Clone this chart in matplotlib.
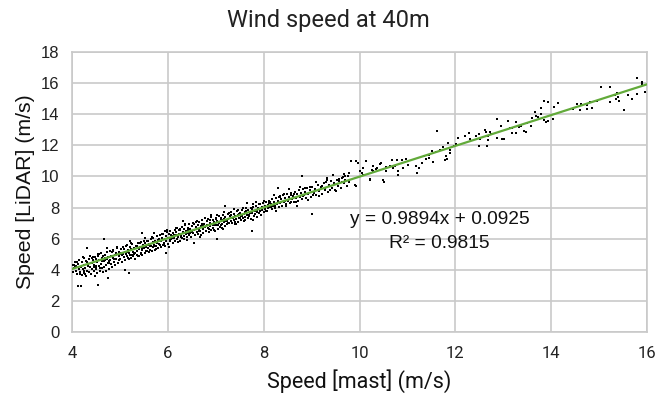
import matplotlib
matplotlib.use("Agg")
import matplotlib.pyplot as plt
import numpy as np

# hand-read points (mast speed, LiDAR speed), m/s
mast_speed = [
    4.02, 4.03, 4.05, 4.06, 4.08, 4.09, 4.11, 4.12, 4.13, 4.14,
    4.15, 4.16, 4.18, 4.19, 4.20, 4.21, 4.22, 4.24, 4.25, 4.26,
    4.27, 4.29, 4.30, 4.31, 4.32, 4.33, 4.35, 4.36, 4.37, 4.38,
    4.40, 4.41, 4.42, 4.43, 4.45, 4.46, 4.47, 4.48, 4.49, 4.50,
    4.51, 4.52, 4.53, 4.55, 4.55, 4.56, 4.57, 4.58, 4.60, 4.61,
    4.62, 4.63, 4.64, 4.66, 4.66, 4.67, 4.68, 4.70, 4.71, 4.72,
    4.73, 4.75, 4.75, 4.76, 4.78, 4.79, 4.80, 4.81, 4.82, 4.84,
    4.85, 4.86, 4.87, 4.89, 4.90, 4.91, 4.92, 4.94, 4.95, 4.97,
    4.98, 4.99,
    5.00, 5.01, 5.03, 5.04, 5.05, 5.07, 5.08, 5.10, 5.10, 5.11,
    5.12, 5.14, 5.15, 5.16, 5.18, 5.19, 5.19, 5.20, 5.22, 5.23,
    5.24, 5.26, 5.27, 5.28, 5.30, 5.31, 5.32, 5.34, 5.35, 5.36,
    5.38, 5.39, 5.40, 5.42, 5.43, 5.44, 5.46, 5.46, 5.47, 5.49,
    5.50, 5.52, 5.53, 5.54, 5.56, 5.57, 5.58, 5.60, 5.61, 5.62,
    5.64, 5.65, 5.66, 5.68, 5.69, 5.70, 5.72, 5.73, 5.74, 5.76,
    5.77, 5.78, 5.80, 5.81, 5.82, 5.84, 5.85, 5.86, 5.88, 5.89,
    5.90, 5.92, 5.93, 5.94, 5.96, 5.96, 5.97, 5.99,
    6.00, 6.01, 6.03, 6.04, 6.05, 6.07, 6.08, 6.10, 6.11, 6.12,
    6.14, 6.15, 6.16, 6.18, 6.19, 6.20, 6.22, 6.23, 6.25, 6.26,
    6.27, 6.29, 6.30, 6.31, 6.31, 6.33, 6.34, 6.36, 6.37, 6.38,
    6.40, 6.41, 6.42, 6.44, 6.45, 6.46, 6.48, 6.49,
    6.50, 6.52, 6.53, 6.55, 6.55, 6.56, 6.58, 6.59, 6.60, 6.62,
    6.63, 6.64, 6.66, 6.67, 6.69, 6.70, 6.71, 6.73, 6.74, 6.75,
    6.77, 6.78, 6.80, 6.81, 6.82, 6.84, 6.85, 6.87, 6.88, 6.89,
    6.91, 6.92, 6.94, 6.95, 6.96, 6.98, 6.99,
    7.00, 7.02, 7.02, 7.03, 7.05, 7.06, 7.07, 7.09, 7.10, 7.12,
    7.13, 7.14, 7.16, 7.17, 7.19, 7.20, 7.20, 7.22, 7.23, 7.25,
    7.26, 7.28, 7.29, 7.31, 7.32, 7.34, 7.35, 7.37, 7.38, 7.40,
    7.41, 7.43, 7.44, 7.46, 7.47, 7.49,
    7.50, 7.52, 7.53, 7.55, 7.56, 7.58, 7.59, 7.61, 7.62, 7.64,
    7.65, 7.67, 7.68, 7.70, 7.71, 7.73, 7.75, 7.75, 7.76, 7.78,
    7.79, 7.81, 7.82, 7.84, 7.85, 7.87, 7.88, 7.90, 7.91, 7.93,
    7.94, 7.96, 7.97, 7.99,
    8.00, 8.02, 8.03, 8.05, 8.07, 8.08, 8.10, 8.12, 8.13, 8.15,
    8.17, 8.18, 8.20, 8.22, 8.23, 8.25, 8.27, 8.29, 8.30, 8.31,
    8.33, 8.35, 8.37, 8.39, 8.41, 8.43, 8.45, 8.47, 8.49,
    8.51, 8.53, 8.55, 8.57, 8.59, 8.62, 8.64, 8.66, 8.68, 8.70,
    8.72, 8.74, 8.76, 8.78, 8.80, 8.80, 8.82, 8.85, 8.87, 8.89,
    8.91, 8.93, 8.96, 8.98,
    9.01, 9.01, 9.04, 9.07, 9.10, 9.13, 9.16, 9.19, 9.22, 9.25,
    9.28, 9.31, 9.33, 9.34, 9.37, 9.40, 9.43, 9.46, 9.49, 9.52,
    9.55, 9.58, 9.61, 9.64, 9.65, 9.67, 9.67, 9.70, 9.73, 9.76,
    9.79, 9.79, 9.83, 9.90, 9.93, 9.93, 9.96,
    10.00, 10.05, 10.07, 10.07, 10.14, 10.21, 10.22, 10.26, 10.28, 10.28,
    10.35, 10.37, 10.42, 10.45, 10.49, 10.52, 10.56, 10.56, 10.63, 10.67,
    10.69, 10.74, 10.78, 10.80, 10.81, 10.89, 10.90, 10.97, 11.01,
    11.18, 11.20, 11.25, 11.31, 11.35, 11.38, 11.44, 11.46, 11.51, 11.53,
    11.60, 11.62, 11.69, 11.74, 11.79, 11.81, 11.83, 11.84, 11.88, 11.89,
    11.98, 12.01, 12.05, 12.21, 12.28, 12.30, 12.44, 12.49, 12.50, 12.51,
    12.61, 12.64, 12.66, 12.68, 12.69, 12.72, 12.75, 12.87, 12.87, 12.96,
    12.98, 13.02, 13.10, 13.15, 13.19, 13.19, 13.26, 13.26, 13.33, 13.38,
    13.44, 13.47, 13.49, 13.58, 13.61, 13.66, 13.68, 13.72, 13.78, 13.78,
    13.85, 13.85, 13.89, 13.94, 13.94, 14.03, 14.06, 14.15, 14.46, 14.53,
    14.61, 14.63, 14.74, 14.74, 14.80, 14.85, 14.96, 15.05, 15.22, 15.23,
    15.33, 15.36, 15.38, 15.39, 15.42, 15.51, 15.61, 15.69, 15.79, 15.80,
    15.89, 15.89, 15.96,
]
lidar_speed = [
    4.31, 3.85, 4.12, 4.52, 3.95, 4.27, 3.72, 4.40, 2.96, 4.05,
    4.63, 3.88, 4.21, 2.98, 3.66, 4.48, 4.02, 4.75, 3.79, 4.33,
    4.10, 3.61, 4.56, 5.42, 3.94, 4.28, 4.68, 3.83, 4.15, 4.90,
    3.70, 4.44, 4.02, 4.61, 3.89, 4.30, 4.82, 3.58, 4.19, 4.72,
    4.05, 4.48, 3.81, 3.02, 4.91, 4.26, 4.63, 3.95, 4.40, 5.05,
    4.12, 4.77, 3.86, 5.96, 4.55, 4.20, 4.98, 4.33, 3.92, 4.69,
    5.12, 3.49, 4.46, 4.85, 4.08, 4.62, 5.21, 4.37, 4.90, 4.15,
    4.73, 5.30, 4.51, 4.96, 4.28, 5.08, 4.67, 5.39, 4.45, 4.88,
    5.17, 4.60,
    5.02, 4.71, 5.33, 4.52, 4.94, 5.48, 4.80, 3.99, 5.15, 4.63,
    5.02, 5.57, 4.89, 5.26, 4.70, 3.81, 5.10, 5.44, 4.96, 5.31,
    4.78, 5.63, 5.17, 4.91, 5.40, 5.05, 4.72, 5.54, 5.22, 4.98,
    5.71, 5.33, 4.86, 5.47, 5.10, 5.80, 6.39, 5.28, 4.95, 5.60,
    5.37, 5.05, 5.74, 5.48, 5.18, 5.86, 5.41, 5.12, 5.66, 5.30,
    5.95, 5.52, 5.21, 5.79, 5.44, 6.07, 5.60, 5.29, 5.88, 5.51,
    6.15, 5.70, 5.38, 5.97, 5.63, 6.22, 5.47, 5.82, 6.05, 5.58,
    6.30, 5.74, 5.96, 5.52, 5.10, 6.18, 5.85, 6.40,
    5.68, 6.05, 6.27, 5.82, 6.49, 5.95, 6.18, 5.73, 6.36, 6.02,
    6.58, 5.88, 6.24, 6.45, 5.97, 6.70, 6.12, 6.33, 5.85, 6.55,
    6.20, 6.78, 6.03, 7.16, 6.41, 6.62, 6.14, 6.85, 6.30, 6.52,
    6.08, 6.71, 6.38, 6.94, 6.22, 6.60, 6.44, 6.12,
    6.80, 6.35, 6.98, 5.70, 6.56, 6.25, 6.74, 7.10, 6.43, 6.88,
    6.30, 6.65, 7.05, 6.50, 6.21, 6.83, 7.22, 6.61, 6.38, 6.96,
    6.72, 7.30, 6.52, 6.88, 7.12, 6.66, 6.40, 7.02, 6.79, 7.40,
    6.58, 6.95, 7.18, 6.71, 7.05, 6.48, 6.86,
    7.28, 5.98, 6.90, 7.12, 6.62, 7.45, 7.00, 6.78, 7.33, 6.95,
    7.18, 6.70, 7.52, 7.05, 6.84, 8.08, 7.39, 7.11, 6.92, 7.60,
    7.25, 6.98, 7.44, 7.15, 7.70, 7.02, 7.36, 7.58, 7.20, 6.95,
    7.48, 7.28, 7.78, 7.10, 7.52, 7.35,
    7.66, 7.22, 7.47, 7.85, 7.30, 7.60, 7.12, 7.74, 7.42, 7.95,
    7.55, 7.30, 7.82, 7.50, 7.68, 7.28, 6.52, 7.90, 7.62, 8.05,
    7.45, 7.80, 7.58, 8.12, 7.70, 7.40, 7.95, 7.62, 8.20, 7.78,
    7.55, 8.02, 7.83, 8.30,
    7.72, 8.08, 7.90, 8.38, 7.80, 8.15, 7.95, 8.45, 8.02, 8.26,
    7.88, 8.55, 8.10, 8.35, 7.98, 8.62, 8.20, 8.44, 9.28, 8.05,
    8.70, 8.30, 8.52, 8.12, 8.78, 8.38, 8.60, 8.22, 8.85,
    8.45, 8.68, 8.28, 8.92, 8.55, 8.75, 8.35, 9.02, 8.62, 8.84,
    8.40, 9.10, 8.70, 8.95, 10.05, 8.52, 9.18, 8.78, 9.02, 8.60,
    9.25, 8.88, 9.12, 8.68,
    7.59, 9.30, 8.95, 9.20, 8.78, 9.42, 9.05, 9.35, 8.90, 9.55,
    9.18, 9.62, 9.92, 9.02, 9.45, 9.72, 9.28, 9.58, 9.10, 9.80,
    9.40, 9.68, 9.25, 9.90, 9.99, 9.55, 10.16, 9.78, 9.38, 10.02,
    9.65, 10.20, 11.02, 9.44, 11.00, 9.40, 10.85,
    10.33, 10.20, 10.10, 10.57, 11.00, 9.81, 9.77, 10.42, 10.68, 10.33,
    10.48, 10.52, 10.78, 10.85, 9.77, 9.62, 10.63, 10.33, 10.68, 11.06,
    10.52, 10.68, 11.04, 10.38, 10.10, 11.04, 10.57, 11.13, 10.74,
    10.68, 10.25, 10.57, 10.89, 11.34, 11.13, 11.17, 11.38, 11.66, 10.91,
    11.59, 12.93, 11.70, 11.92, 11.04, 11.32, 11.13, 12.13, 11.70, 11.49,
    11.98, 12.09, 12.50, 12.62, 12.82, 12.39, 12.62, 11.98, 12.71, 12.41,
    12.99, 12.84, 11.98, 12.62, 12.35, 12.86, 12.73, 13.72, 12.45, 13.27,
    12.41, 12.41, 13.57, 13.12, 13.14, 12.78, 13.52, 12.78, 13.20, 13.25,
    12.93, 12.84, 13.42, 13.27, 13.74, 14.16, 13.89, 13.81, 14.42, 14.00,
    14.85, 13.63, 13.48, 14.81, 13.57, 13.68, 14.49, 14.70, 14.32, 14.64,
    14.28, 14.64, 14.60, 14.34, 14.77, 14.42, 14.85, 15.73, 14.81, 15.73,
    15.26, 14.98, 15.35, 15.09, 14.85, 14.28, 15.24, 14.96, 16.35, 15.28,
    16.10, 15.95, 15.41,
]

# second pass over the dense band (4 - 9.7 m/s)
mast_speed_band = [
    4.04, 4.17, 4.07, 4.23, 4.34, 4.28, 4.44, 4.39, 4.57, 4.49,
    4.65, 4.59, 4.74, 4.69, 4.83, 4.78, 4.93, 4.88, 5.02, 4.96,
    5.13, 5.06, 5.21, 5.17, 5.33, 5.25, 5.41, 5.37, 5.52, 5.45,
    5.59, 5.55, 5.71, 5.63, 5.79, 5.75, 5.87, 5.83, 5.98, 5.91,
    6.06, 6.02, 6.17, 6.09, 6.24, 6.21, 6.35, 6.28, 6.43, 6.39,
    6.54, 6.47, 6.61, 6.57, 6.72, 6.68, 6.83, 6.76, 6.90, 6.86,
    7.01, 6.97, 7.11, 7.04, 7.18, 7.15, 7.27, 7.24, 7.39, 7.33,
    7.48, 7.42, 7.57, 7.51, 7.66, 7.60, 7.74, 7.69, 7.83, 7.77,
    7.92, 7.86, 8.01, 7.95, 8.11, 8.06, 8.21, 8.16, 8.32, 8.26,
    8.42, 8.36, 8.53, 8.46, 8.63, 8.58, 8.75, 8.69, 8.86, 8.81,
    8.97, 8.92, 9.09, 9.03, 9.21, 9.15, 9.32, 9.27, 9.45, 9.39,
    9.57, 9.51, 9.69, 9.63,
    4.01, 4.10, 4.19, 4.26, 4.32, 4.41, 4.46, 4.54, 4.62, 4.68,
    4.77, 4.85, 4.91, 5.00, 5.08, 5.15, 5.23, 5.29, 5.36, 5.44,
    5.51, 5.58, 5.66, 5.73, 5.81, 5.89, 5.95, 6.04, 6.13, 6.20,
    6.26, 6.33, 6.41, 6.50, 6.59, 6.65, 6.73, 6.80, 6.88, 6.95,
    7.03, 7.10, 7.17, 7.25, 7.31, 7.40, 7.47, 7.55, 7.63, 7.70,
    7.78, 7.85, 7.93, 8.04, 8.14, 8.24, 8.34, 8.44, 8.56, 8.67,
]
lidar_speed_band = [
    4.31, 3.75, 4.20, 4.83, 4.24, 3.71, 4.83, 4.41, 5.03, 4.25,
    4.87, 4.12, 5.42, 4.65, 5.14, 4.45, 5.47, 4.72, 5.09, 4.44,
    5.56, 4.99, 5.84, 4.78, 5.51, 4.97, 5.75, 4.87, 6.03, 5.43,
    5.85, 5.19, 6.37, 5.50, 5.89, 5.31, 6.29, 5.62, 6.55, 5.60,
    6.26, 5.49, 6.66, 6.03, 6.57, 5.81, 6.96, 6.09, 6.57, 5.91,
    6.92, 6.36, 7.14, 6.23, 6.96, 6.12, 7.28, 6.76, 7.54, 6.60,
    7.30, 6.55, 7.27, 6.87, 7.74, 6.64, 7.63, 7.16, 7.89, 7.01,
    7.59, 6.97, 7.98, 7.36, 8.28, 7.23, 7.95, 7.46, 8.35, 7.23,
    8.22, 7.81, 8.45, 7.54, 8.28, 7.77, 8.80, 8.02, 8.67, 7.77,
    8.90, 8.33, 9.20, 8.11, 8.88, 8.36, 9.30, 8.11, 9.26, 8.72,
    9.29, 8.49, 9.67, 8.83, 9.40, 8.77, 9.79, 9.15, 10.10, 9.12,
    9.85, 9.05, 10.06, 9.62,
    3.88, 4.51, 4.19, 3.91, 4.49, 4.73, 4.18, 5.03, 4.55, 4.78,
    4.56, 5.23, 4.98, 4.68, 5.33, 5.12, 5.70, 5.04, 5.51, 5.04,
    5.82, 5.61, 6.08, 5.55, 6.01, 5.59, 6.48, 5.95, 6.25, 5.97,
    6.65, 5.96, 6.68, 6.49, 7.04, 6.51, 6.89, 6.49, 7.22, 6.90,
    7.53, 6.90, 7.25, 6.98, 7.54, 7.04, 7.83, 7.45, 7.76, 7.53,
    8.21, 7.86, 8.23, 7.78, 8.33, 8.09, 8.72, 8.40, 8.82, 8.37,
]

slope = 0.9894
intercept = 0.0925
r_squared = 0.9815
fit_x = [4, 16]

x_ticks = [4, 6, 8, 10, 12, 14, 16]
y_ticks = [0, 2, 4, 6, 8, 10, 12, 14, 16, 18]

grid_col = '#C9C9C9'

fig = plt.figure(figsize=(6.56, 4.07), dpi=100)
ax = fig.add_axes([0.1098, 0.1843, 0.8765, 0.6879])

ax.scatter(mast_speed + mast_speed_band, lidar_speed + lidar_speed_band,
           s=4.5, marker='s', color='black', linewidths=0, zorder=3)
fit_y = [slope * v + intercept for v in fit_x]
ax.plot(fit_x, fit_y, color='#62AA3A', linewidth=1.6, zorder=4)

ax.set_xlim(4, 16)
ax.set_ylim(0, 18)
ax.set_xticks(x_ticks)
ax.set_yticks(y_ticks)
ax.grid(True, color=grid_col, linewidth=1.2, zorder=0)
ax.set_axisbelow(True)
for sp in ax.spines.values():
    sp.set_color(grid_col)
    sp.set_linewidth(1.2)
ax.tick_params(length=0)
ax.tick_params(axis='x', pad=10)
ax.tick_params(axis='y', pad=9)
plt.setp(ax.get_xticklabels(), fontsize=12, family='Roboto', color='#222222')
plt.setp(ax.get_yticklabels(), fontsize=12, family='Liberation Sans', color='#222222')

ax.set_xlabel('Speed [mast] (m/s)', fontsize=15.5, family='Roboto', color='#111111', labelpad=6)
ax.set_ylabel('Speed [LiDAR] (m/s)', fontsize=15.3, family='Liberation Sans', color='#111111', labelpad=4)
fig.text(0.5, 0.95, 'Wind speed at 40m', ha='center', va='center', fontsize=17,
         family='Roboto', color='#222222')

ax.text(11.67, 7.2, 'y = %.4fx + %.4f' % (slope, intercept), ha='center', va='center',
        fontsize=13.8, family='Liberation Sans', color='#111111', zorder=5)
ax.text(11.67, 5.72, 'R\u00b2 = %.4f' % r_squared, ha='center', va='center',
        fontsize=13.8, family='Liberation Sans', color='#111111', zorder=5)

fig.savefig('out.png', dpi=100)
